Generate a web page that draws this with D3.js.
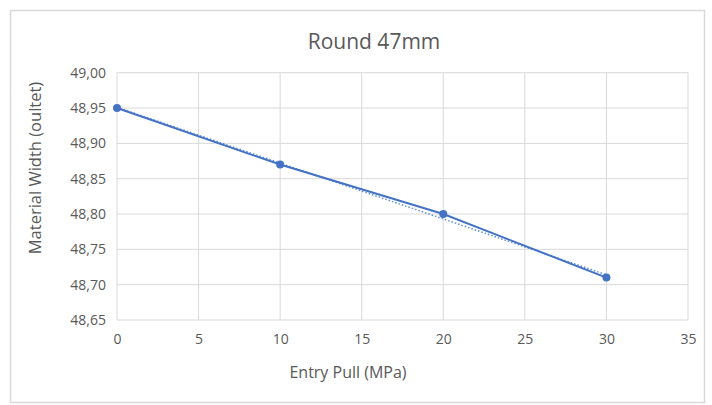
<!DOCTYPE html>
<html>
<head>
<meta charset="utf-8">
<script src="https://cdn.jsdelivr.net/npm/d3@7"></script>
<style>
  html, body { margin: 0; padding: 0; background: #fff; }
  svg { display: block; font-family: "Open Sans", "Liberation Sans", sans-serif; }
</style>
</head>
<body>
<svg id="chart" width="712" height="405"></svg>
<script>
// Measured material width at the outlet for each entry pull
const entryPull = [0, 10, 20, 30];
const materialWidth = [48.95, 48.87, 48.80, 48.71];
const xTicks = [0, 5, 10, 15, 20, 25, 30, 35];
const yTicks = [48.65, 48.70, 48.75, 48.80, 48.85, 48.90, 48.95, 49.00];
const chartTitle = "Round 47mm";
const xTitle = "Entry Pull (MPa)";
const yTitle = "Material Width (oultet)";

const svg = d3.select("#chart");
const W = 712, H = 405;
const plot = { left: 117, right: 688, top: 72.7, bottom: 320 };
const textColor = "#595959";

// Chart frame
svg.append("rect")
  .attr("x", 10.5).attr("y", 10.5)
  .attr("width", W - 18).attr("height", H - 13)
  .attr("fill", "#fff").attr("stroke", "#d9d9d9").attr("stroke-width", 1.5);

const x = d3.scaleLinear().domain([0, 35]).range([plot.left, plot.right]);
const y = d3.scaleLinear().domain([48.65, 49.00]).range([plot.bottom, plot.top]);

const comma = v => d3.format(".2f")(v).replace(".", ",");

// Gridlines
svg.append("g").selectAll("line").data(yTicks).join("line")
  .attr("x1", plot.left).attr("x2", plot.right)
  .attr("y1", d => y(d)).attr("y2", d => y(d))
  .attr("stroke", "#d9d9d9").attr("stroke-width", 1);
svg.append("g").selectAll("line").data(xTicks).join("line")
  .attr("x1", d => x(d)).attr("x2", d => x(d))
  .attr("y1", plot.top).attr("y2", plot.bottom)
  .attr("stroke", "#d9d9d9").attr("stroke-width", 1);

// Axes (labels only, Excel style)
const xAxis = svg.append("g")
  .attr("transform", `translate(0,${plot.bottom})`)
  .call(d3.axisBottom(x).tickValues(xTicks).tickSize(0).tickPadding(14));
const yAxis = svg.append("g")
  .attr("transform", `translate(${plot.left},0)`)
  .call(d3.axisLeft(y).tickValues(yTicks).tickFormat(comma).tickSize(0).tickPadding(11));
[xAxis, yAxis].forEach(g => {
  g.select(".domain").remove();
  g.selectAll("text").attr("fill", textColor).attr("font-size", 14)
    .attr("font-family", "\"Open Sans\", \"Liberation Sans\", sans-serif");
});

// Linear trendline (least squares)
const mx = d3.mean(entryPull), my = d3.mean(materialWidth);
const slope = d3.sum(entryPull, (v, i) => (v - mx) * (materialWidth[i] - my)) /
              d3.sum(entryPull, v => (v - mx) * (v - mx));
const intercept = my - slope * mx;
const xr = d3.extent(entryPull);
svg.append("line")
  .attr("x1", x(xr[0])).attr("y1", y(intercept + slope * xr[0]))
  .attr("x2", x(xr[1])).attr("y2", y(intercept + slope * xr[1]))
  .attr("stroke", "#5b8fd6").attr("stroke-width", 1.5)
  .attr("stroke-dasharray", "1.5,2");

// Series line and markers
const pts = entryPull.map((v, i) => [v, materialWidth[i]]);
svg.append("path")
  .datum(pts)
  .attr("fill", "none").attr("stroke", "#4472c4").attr("stroke-width", 2)
  .attr("d", d3.line().x(d => x(d[0])).y(d => y(d[1])));
svg.append("g").selectAll("circle").data(pts).join("circle")
  .attr("cx", d => x(d[0])).attr("cy", d => y(d[1])).attr("r", 4)
  .attr("fill", "#4472c4");

// Titles
svg.append("text")
  .attr("x", 374).attr("y", 49).attr("text-anchor", "middle")
  .attr("fill", textColor).attr("font-size", 21).text(chartTitle);
svg.append("text")
  .attr("x", 348).attr("y", 378).attr("text-anchor", "middle")
  .attr("fill", textColor).attr("font-size", 16).text(xTitle);
svg.append("text")
  .attr("transform", `translate(41,168) rotate(-90)`)
  .attr("text-anchor", "middle")
  .attr("fill", textColor).attr("font-size", 16.5).text(yTitle);
</script>
</body>
</html>
